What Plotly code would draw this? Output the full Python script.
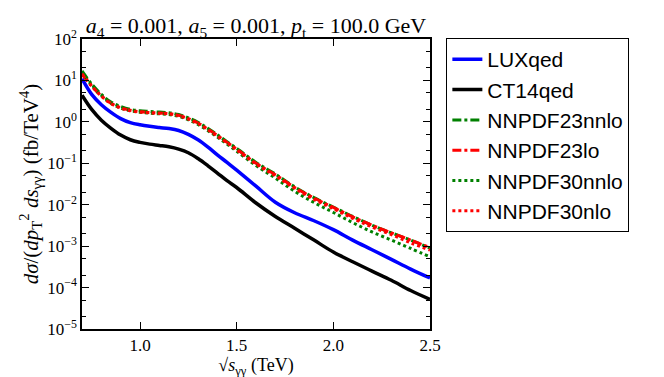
import plotly.graph_objects as go

# sqrt(s_gg) grid (TeV)
x = [0.70, 0.75, 0.80, 0.85, 0.90, 0.95, 1.00, 1.05, 1.10, 1.15, 1.20, 1.25,
     1.30, 1.35, 1.40, 1.45, 1.50, 1.60, 1.70, 1.80, 1.90, 2.00, 2.10, 2.20,
     2.30, 2.40, 2.50]

# d sigma / (dpT^2 ds) in fb/TeV^4
luxqed = [11.0, 4.6, 2.6, 1.7, 1.2, 0.96, 0.85, 0.78, 0.73, 0.69, 0.62, 0.50,
          0.37, 0.25, 0.16, 0.105, 0.068, 0.028, 0.0115, 0.0064, 0.0041, 0.0025,
          0.0014, 0.00082, 0.00048, 0.00028, 0.00017]
ct14qed = [4.4, 2.0, 1.1, 0.70, 0.48, 0.37, 0.32, 0.29, 0.27, 0.25, 0.22, 0.18,
           0.13, 0.088, 0.058, 0.038, 0.026, 0.011, 0.0052, 0.0027, 0.0014,
           0.00072, 0.00042, 0.00025, 0.00015, 0.000085, 0.000052]
nnpdf23nnlo = [17.0, 8.2, 4.6, 3.0, 2.35, 2.0, 1.85, 1.78, 1.72, 1.66, 1.5,
               1.25, 0.98, 0.70, 0.49, 0.33, 0.23, 0.105, 0.055, 0.027, 0.0148,
               0.0088, 0.0052, 0.0032, 0.0021, 0.0014, 0.00090]
nnpdf23lo = [14.0, 7.3, 4.2, 2.8, 2.2, 1.9, 1.75, 1.68, 1.63, 1.58, 1.43, 1.2,
             0.94, 0.67, 0.47, 0.32, 0.22, 0.10, 0.053, 0.026, 0.0145, 0.0086,
             0.0051, 0.0032, 0.0021, 0.0014, 0.00092]
nnpdf30nnlo = [15.5, 7.6, 4.3, 2.8, 2.15, 1.85, 1.7, 1.62, 1.56, 1.5, 1.36,
               1.12, 0.87, 0.62, 0.43, 0.29, 0.195, 0.088, 0.044, 0.021, 0.0113,
               0.0065, 0.0037, 0.0022, 0.0014, 0.00088, 0.00055]
nnpdf30nlo = [14.5, 7.4, 4.2, 2.75, 2.15, 1.85, 1.72, 1.65, 1.6, 1.55, 1.4,
              1.17, 0.91, 0.65, 0.45, 0.31, 0.21, 0.096, 0.05, 0.025, 0.0135,
              0.0080, 0.0047, 0.0029, 0.0019, 0.0012, 0.00080]

xticks = [1.0, 1.5, 2.0, 2.5]
yticks = [1e-5, 1e-4, 1e-3, 1e-2, 1e-1, 1e0, 1e1, 1e2]
ytext = ["10<sup>−5</sup>", "10<sup>−4</sup>", "10<sup>−3</sup>", "10<sup>−2</sup>",
         "10<sup>−1</sup>", "10<sup>0</sup>", "10<sup>1</sup>", "10<sup>2</sup>"]

serif = "Liberation Serif"

curves = [
    ("LUXqed", luxqed, "#0000ff", 3.5, "solid"),
    ("CT14qed", ct14qed, "#000000", 3.5, "solid"),
    ("NNPDF23nnlo", nnpdf23nnlo, "#008000", 3, "dashdot"),
    ("NNPDF23lo", nnpdf23lo, "#ff0000", 3, "dashdot"),
    ("NNPDF30nnlo", nnpdf30nnlo, "#008000", 3, "dot"),
    ("NNPDF30nlo", nnpdf30nlo, "#ff0000", 3, "dot"),
]

fig = go.Figure()
for name, ys, col, w, dash in curves:
    fig.add_trace(go.Scatter(x=x, y=ys, mode="lines", name=name, legendgroup=name,
                             line=dict(color=col, width=w, dash=dash,
                                       shape="spline", smoothing=1)))

fig.update_layout(
    width=664, height=377,
    margin=dict(l=74, r=242, t=31, b=56, autoexpand=False),
    paper_bgcolor="white", plot_bgcolor="white",
    font=dict(family=serif, size=16, color="black"),
    title=dict(text="<i>a</i><sub>4</sub> = 0.001, <i>a</i><sub>5</sub> = 0.001, "
                    "<i>p</i><sub>t</sub> = 100.0 GeV",
               x=0.5, xref="paper", xanchor="center", y=1, yref="paper",
               yanchor="bottom", pad=dict(b=6),
               font=dict(family=serif, size=22)),
    legend=dict(x=1.047, y=1.003, xanchor="left", yanchor="top",
                bordercolor="black", borderwidth=1, tracegroupgap=0,
                maxheight=340,
                font=dict(family="Liberation Sans", size=21)),
)

fig.update_xaxes(
    range=[0.7, 2.5], tickvals=xticks, ticktext=[f"{v:.1f}" for v in xticks],
    ticks="inside", ticklen=7, tickwidth=1, tickcolor="black",
    showline=True, linecolor="black", linewidth=1.5, mirror="ticks",
    showgrid=False, zeroline=False, tickfont=dict(size=17),
    title=dict(text="√<i>s</i><sub>γγ</sub> (TeV)", standoff=0, font=dict(size=18)),
)
fig.update_yaxes(
    type="log", range=[-5, 2], tickvals=yticks, ticktext=ytext,
    ticks="inside", ticklen=7, tickwidth=1, tickcolor="black",
    minor=dict(ticks="inside", ticklen=4, tickcolor="black", showgrid=False),
    showline=True, linecolor="black", linewidth=1.5, mirror="ticks",
    showgrid=False, zeroline=False, tickfont=dict(size=17),
    title=dict(text="<i>dσ</i>/(<i>dp</i><sub>T</sub><sup>2</sup> <i>ds</i><sub>γγ</sub>) (fb/TeV<sup>4</sup>)",
               standoff=3, font=dict(size=21)),
)

fig.write_html("out.html")
